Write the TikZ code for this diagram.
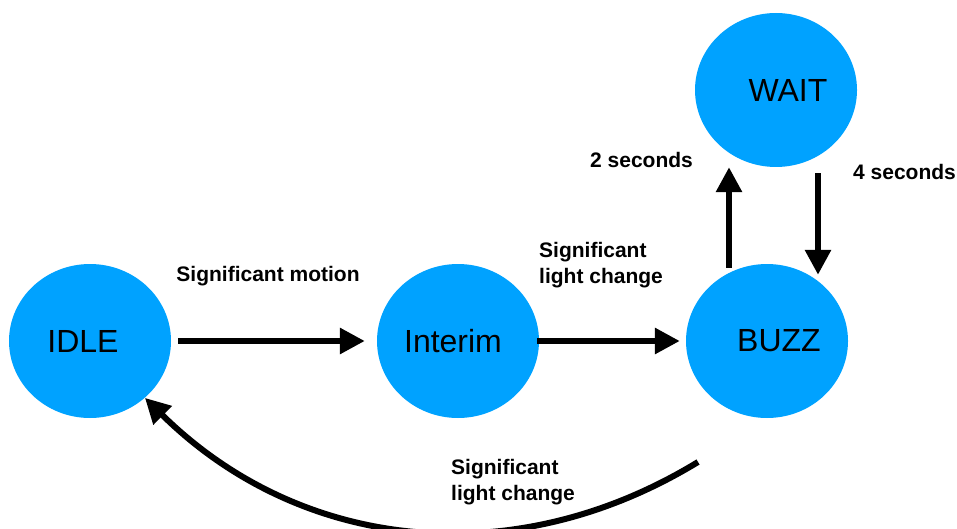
\documentclass[tikz,border=0pt]{standalone}
\usepackage{fontspec}
\setmainfont{Liberation Sans}
\usetikzlibrary{arrows.meta,shapes.geometric}
\definecolor{stateblue}{RGB}{0,162,255}
\tikzset{
  state/.style={ellipse, fill=stateblue, minimum width=162pt, minimum height=154pt, inner sep=0pt},
  statename/.style={font=\fontsize{32}{38}\selectfont, inner sep=0pt},
  flow/.style={-{Triangle[length=25pt,width=25pt]}, line width=6pt},
  cond/.style={font=\bfseries\fontsize{21}{26}\selectfont, align=left, inner sep=0pt},
}
\begin{document}
\begin{tikzpicture}[x=1pt,y=-1pt]
    \useasboundingbox (0,0) rectangle (957,529);

    % zeichne Zustaende
    \node[state, label={[statename, xshift=-7pt]center:IDLE}] (idle) at (90,341) {};
    \node[state, label={[statename, xshift=-5pt]center:Interim}] (interim) at (458,341) {};
    \node[state, label={[statename, xshift=12pt]center:BUZZ}] (buzz) at (767,341) {};
    \node[state, label={[statename, xshift=12pt]center:WAIT}] (wait) at (776,90) {};

    % zeichne Uebergaenge
    \draw[flow, shorten <=7pt, shorten >=12pt] (idle.east) -- (interim.west);
    \draw[flow, shorten <=-2pt, shorten >=6pt] (interim.east) -- (buzz.west);
    \draw[flow, shorten <=-4pt] ([xshift=-38pt]buzz.north) -- ([xshift=-38pt]buzz.north |- wait.south);
    \draw[flow, shorten <=6pt, shorten >=-11pt] ([xshift=42pt]wait.south) -- ([xshift=42pt]wait.south |- buzz.north);
    \coordinate (back) at (698,462);
    \draw[flow] (back) to[bend left=38] (idle.-46);

    % zeichne Bedingungen
    \node[cond, anchor=base] (motion) at (268,281) {Significant motion};
    \node[cond, anchor=base west] (light) at (539,283) {Significant\\light change};
    \node[cond, anchor=base west] (twosec) at (590,168) {2 seconds};
    \node[cond, anchor=base west] (foursec) at (853,180) {4 seconds};
    \node[cond, anchor=base west] (lightback) at (451,500) {Significant\\light change};
\end{tikzpicture}
\end{document}
